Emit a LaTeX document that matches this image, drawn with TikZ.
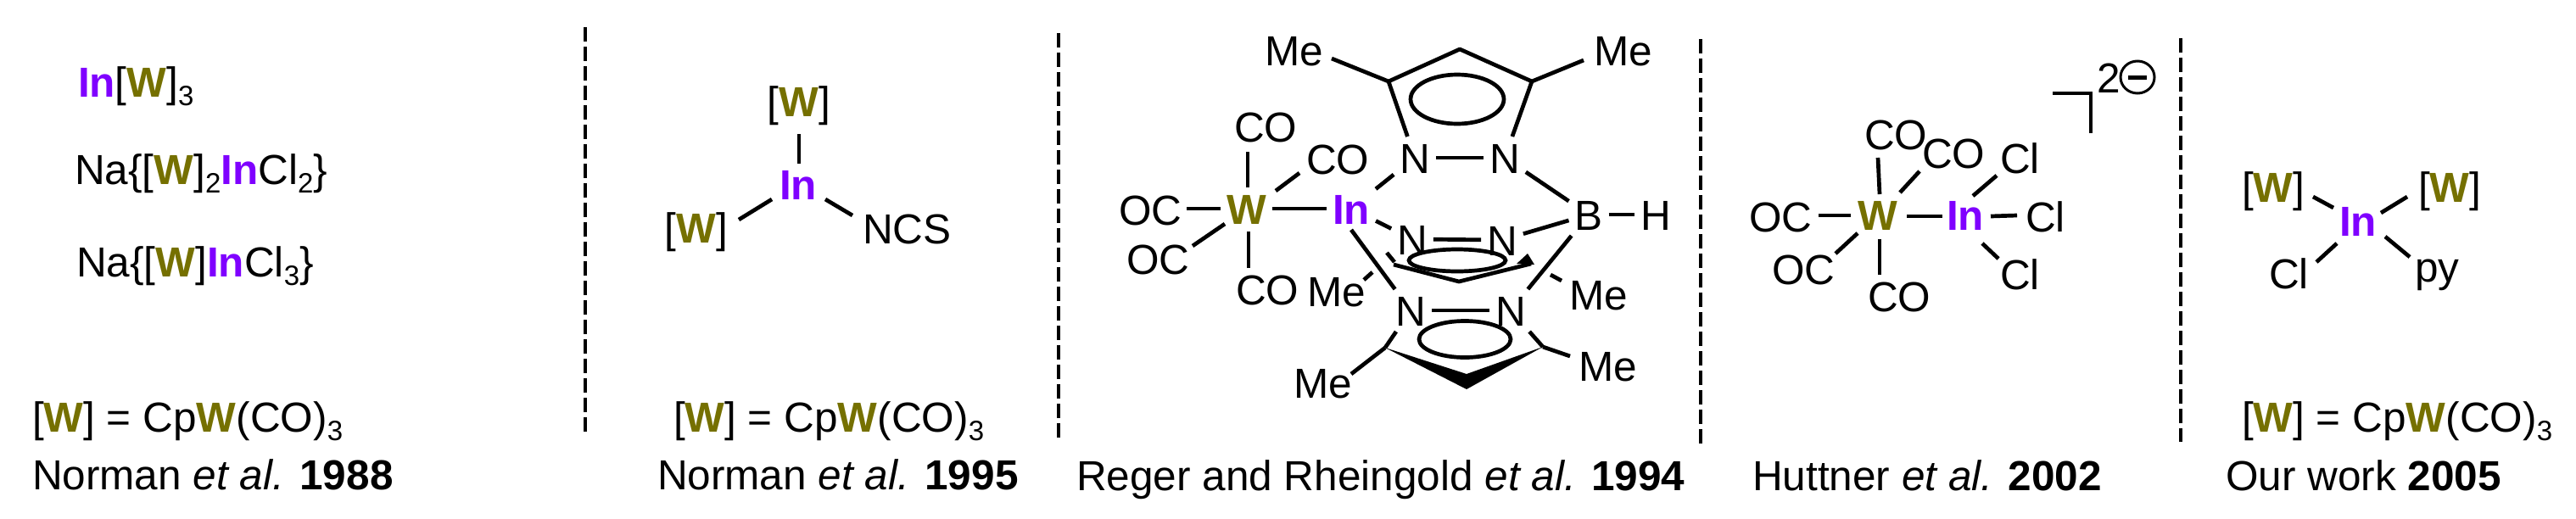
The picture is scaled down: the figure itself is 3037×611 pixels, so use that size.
\documentclass[tikz,border=0pt]{standalone}
\usepackage{fontspec}
\setmainfont{Liberation Sans}
\definecolor{wcol}{RGB}{117,112,0}
\definecolor{incol}{RGB}{127,0,255}
\newcommand\Wc{{\bfseries\color{wcol}W}}
\newcommand\Inc{{\bfseries\color{incol}In}}
\newcommand\subn[1]{\raisebox{-10pt}{\fontsize{33}{33}\selectfont #1}}
\newcommand\bd[6]{\draw[bond] ([shift={(#2,#3)}]#1) -- ([shift={(#5,#6)}]#4);}
\tikzset{
  txt/.style={inner sep=0pt,outer sep=0pt,font=\fontsize{49.5}{55}\selectfont,anchor=base west},
  atom/.style={inner sep=0pt,outer sep=7pt,font=\fontsize{49.5}{55}\selectfont,anchor=base,text height=36pt,text depth=0pt},
  bond/.style={line width=4.7pt},
  ringline/.style={line width=4.7pt},
  sep/.style={line width=4.5pt,dash pattern=on 17pt off 6pt}
}
\begin{document}
\begin{tikzpicture}[x=1pt,y=-1pt]
\useasboundingbox (0,0) rectangle (3037,611);
% separators
\coordinate (s1a) at (690,32); \coordinate (s1b) at (690,510);
\coordinate (s2a) at (1248,39); \coordinate (s2b) at (1248,516);
\coordinate (s3a) at (2005,46); \coordinate (s3b) at (2005,523);
\coordinate (s4a) at (2571,45); \coordinate (s4b) at (2571,521);
\draw[sep] (s1a) -- (s1b);
\draw[sep] (s2a) -- (s2b);
\draw[sep] (s3a) -- (s3b);
\draw[sep] (s4a) -- (s4b);
% panel 1
\node[txt] (p1a) at (92,114) {\Inc[\Wc]\subn{3}};
\node[txt] (p1b) at (88,217) {Na\{[\Wc]\subn{2}\Inc Cl\subn{2}\}};
\node[txt] (p1c) at (90,326) {Na\{[\Wc]\Inc Cl\subn{3}\}};
\node[txt] (p1d) at (38,509) {[\Wc] = Cp\Wc(CO)\subn{3}};
\node[txt] (p1e) at (38,577) {Norman \textit{et al.} \textbf{1988}};
% panel 2
\node[atom] (aW1) at (942,137) {[\Wc]};
\node[atom] (aIn) at (941,235) {\Inc};
\node[atom] (aW2) at (821,286) {[\Wc]};
\node[txt] (aNCS) at (1017,287) {NCS};
\bd{aW1.base}{0}{21}{aIn.base}{1}{-42}
\bd{aW2.base}{50}{-27}{aIn.base}{-31}{0}
\bd{aIn.base}{32}{0}{aNCS.base west}{-12}{-33}
\node[txt] (p2d) at (794,509) {[\Wc] = Cp\Wc(CO)\subn{3}};
\node[txt] (p2e) at (775,577) {Norman \textit{et al.} \textbf{1995}};
% panel 3
\node[txt] (bMe1) at (1491,77) {Me};
\node[txt] (bMe2) at (1879,77) {Me};
\node[atom] (bN1) at (1668,204) {N};
\node[atom] (bN2) at (1774,204) {N};
\node[atom] (bN3) at (1665,300) {N};
\node[atom] (bN4) at (1771,301) {N};
\node[atom] (bN5) at (1663,384) {N};
\node[atom] (bN6) at (1781,384) {N};
\node[atom] (bB) at (1873,271) {B};
\node[atom] (bH) at (1952,271) {H};
\node[atom] (bIn) at (1593,264) {\Inc};
\node[atom] (bW) at (1470,264) {\Wc};
\node[txt] (bCOa) at (1455,167) {CO};
\node[txt] (bCOb) at (1540,205) {CO};
\node[txt] (bOCa) at (1319,265) {OC};
\node[txt] (bOCb) at (1328,323) {OC};
\node[txt] (bCOc) at (1457,359) {CO};
\node[txt] (bMe3) at (1541,361) {Me};
\node[txt] (bMe4) at (1850,365) {Me};
\node[txt] (bMe5) at (1525,469) {Me};
\node[txt] (bMe6) at (1861,449) {Me};
\coordinate (c1) at (1637,96); \coordinate (c2) at (1721,58); \coordinate (c3) at (1806,96);
\coordinate (d1) at (1643,312); \coordinate (d2) at (1720,332); \coordinate (d3) at (1805,311);
\coordinate (d0) at (1635,298); \coordinate (d7) at (1644,309);
\coordinate (d4) at (1801,299); \coordinate (d5) at (1788,311); \coordinate (d6) at (1809,312);
\coordinate (e1) at (1633,410); \coordinate (e2) at (1729,441); \coordinate (e3) at (1819,409); \coordinate (e4) at (1729,459);
\draw[bond,line join=round] (bN1) -- (c1) -- (c2) -- (c3) -- (bN2);
\bd{bMe1.base west}{79}{-8}{c1}{0}{0}
\bd{bMe2.base west}{-12}{-6}{c3}{0}{0}
\draw[bond] (bN1) -- (bN2);
\draw[bond] (bN3) -- (bN4);
\draw[bond] (bN5) -- (bN6);
\draw[bond] (bIn) -- (bN1);
\draw[bond] (bIn) -- (bN3);
\draw[bond] (bIn.south) -- (bN5);
\draw[bond] (bN2) -- (bB);
\draw[bond] (bB) -- (bH);
\draw[bond] (bB) -- (bN4);
\draw[bond] (bB) -- (bN6);
\draw[bond] (bW) -- (bIn);
\bd{bW.base}{1}{-43}{bCOa.base west}{16}{12}
\bd{bW.base}{34}{-39}{bCOb.base west}{-8}{-1}
\bd{bOCa.base west}{80}{-19}{bW.base}{-31}{-18}
\bd{bOCb.base west}{78}{-33}{bW.base}{-26}{0}
\bd{bCOc.base west}{15}{-43}{bW.base}{2}{9}
\draw[ringline] (1718,117) ellipse [x radius=55, y radius=29];
\draw[ringline] (1718,307) ellipse [x radius=57, y radius=13];
\draw[ringline] (1727,400) ellipse [x radius=54, y radius=21.5];
\draw[bond,line join=round] (d1) -- (d2) -- (d3);
\draw[bond] (d0) -- (d7);
\fill (d4) -- (d5) -- (d6) -- cycle;
\bd{bMe3.base west}{67}{-31}{bMe3.base west}{77}{-40}
\bd{bMe4.base west}{-9}{-34}{bMe4.base west}{-22}{-41}
\fill (e1) -- (e2) -- (e3) -- (e4) -- cycle;
\draw[bond] (bN5) -- (e1);
\draw[bond] (bN6) -- (e3);
\bd{bMe5.base west}{68}{-28}{e1}{0}{0}
\bd{bMe6.base west}{-10}{-29}{e3}{0}{0}
\node[txt] (p3e) at (1269,578) {Reger and Rheingold \textit{et al.} \textbf{1994}};
% panel 4
\node[atom] (cW) at (2214,271) {\Wc};
\node[atom] (cIn) at (2317,271) {\Inc};
\node[txt] (cCOa) at (2198,176) {CO};
\node[txt] (cCOb) at (2266,198) {CO};
\node[txt] (cCl1) at (2358,204) {Cl};
\node[txt] (cCl2) at (2388,273) {Cl};
\node[txt] (cCl3) at (2358,341) {Cl};
\node[txt] (cOCa) at (2062,273) {OC};
\node[txt] (cOCb) at (2089,335) {OC};
\node[txt] (cCOc) at (2202,367) {CO};
\node[txt] (cTwo) at (2472,109) {2};
\bd{cW.base}{2}{-42}{cCOa.base west}{16}{10}
\bd{cW.base}{26}{-44}{cCOb.base west}{-3}{4}
\bd{cOCa.base west}{82}{-19}{cW.base}{-32}{-17}
\bd{cIn.base}{9}{-40}{cCl1.base west}{-4}{3}
\bd{cIn.base}{30}{-16}{cCl2.base west}{-10}{-19}
\bd{cIn.base}{20}{16}{cCl3.base west}{-2}{-36}
\bd{cW.base}{-24}{4}{cOCb.base west}{75}{-36}
\bd{cW.base}{2}{11}{cCOc.base west}{14}{-43}
\bd{cW.base}{34}{-16}{cIn.base}{-27}{-16}
\draw[bond] (2420,110) -- (2465,110) -- (2465,157);
\draw[line width=3pt] (2520,91) ellipse [x radius=20, y radius=19];
\draw[line width=5pt] (2509,91) -- (2531,91);
\node[txt] (p4e) at (2066,578) {Huttner \textit{et al.} \textbf{2002}};
% panel 5
\node[atom] (fIn) at (2780,278) {\Inc};
\node[txt] (fW1) at (2643,238) {[\Wc]};
\node[txt] (fW2) at (2851,238) {[\Wc]};
\node[txt] (fCl) at (2675,340) {Cl};
\node[txt] (fpy) at (2847,332) {py};
\bd{fW1.base west}{84}{-6}{fIn.base}{-29}{-33}
\bd{fW2.base west}{-13}{-6}{fIn.base}{27}{-27}
\bd{fCl.base west}{56}{-31}{fIn.base}{-25}{9}
\bd{fpy.base west}{-6}{-29}{fIn.base}{32}{1}
\node[txt] (p5d) at (2643,509) {[\Wc] = Cp\Wc(CO)\subn{3}};
\node[txt] (p5e) at (2624,578) {Our work \textbf{2005}};
\end{tikzpicture}
\end{document}
